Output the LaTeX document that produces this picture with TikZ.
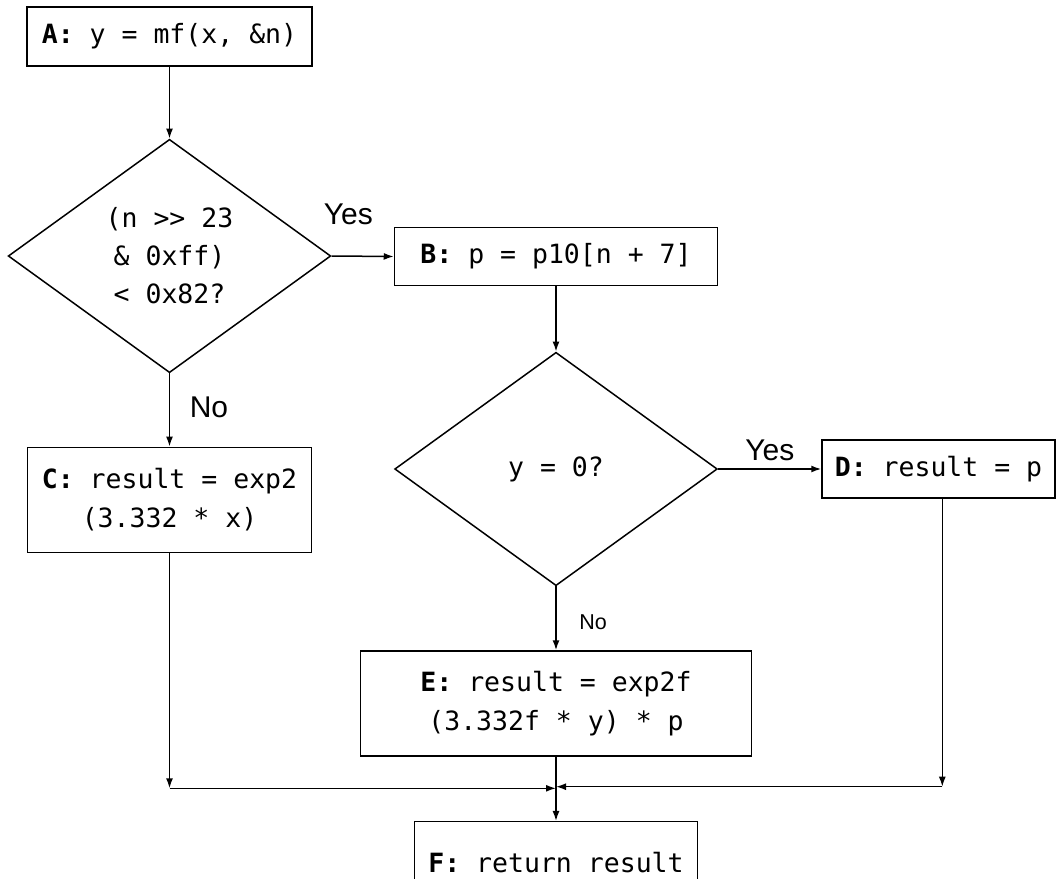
\documentclass[tikz,border=0pt]{standalone}
\usepackage{fontspec}
\setmonofont{DejaVu Sans Mono}
\setsansfont{Liberation Sans}
\usetikzlibrary{shapes.geometric,arrows.meta}

\begin{document}
\begin{tikzpicture}[x=1pt,y=-1pt,
  stmt/.style={rectangle,draw,line width=1.5pt,align=center,inner sep=0pt,
    font=\ttfamily\fontsize{26.5}{39}\selectfont},
  cond/.style={diamond,draw,line width=1.5pt,align=center,inner sep=0pt,
    aspect=1.38,minimum width=322.6pt,minimum height=233.4pt,
    font=\ttfamily\fontsize{26.5}{38}\selectfont},
  answer/.style={anchor=base,font=\sffamily\fontsize{30}{36}\selectfont},
  flow/.style={line width=1.5pt,-{Latex[length=10pt,width=7pt]}}]
    \useasboundingbox (0,0) rectangle (1057,878);
    % Statements
    \node[stmt,minimum width=285pt,minimum height=59pt] (A) at (169.5,36.5)
      {\textbf{A:} y = mf(x, \&n)};
    \node[stmt,minimum width=323pt,minimum height=58.4pt] (B) at (556,256.5)
      {\textbf{B:} p = p10[n + 7]};
    \node[stmt,minimum width=284.4pt,minimum height=105.4pt] (C) at (169.5,500)
      {\textbf{C:} result = exp2\\(3.332 * x)};
    \node[stmt,minimum width=233pt,minimum height=58pt] (D) at (938.5,469)
      {\textbf{D:} result = p};
    \node[stmt,minimum width=391pt,minimum height=105pt] (E) at (556,703.5)
      {\textbf{E:} result = exp2f\\(3.332f * y) * p};
    \node[stmt,minimum width=283pt,minimum height=82.6pt] (F) at (556,863)
      {\textbf{F:} return result};
    % Decisions
    \node[cond] (Q1) at (169.5,256) {(n >{}> 23\\\& 0xff)\\< 0x82?};
    \node[cond] (Q2) at (556,469) {y = 0?};
    % Branch labels
    \node[answer] (yes1) at (348.3,224) {Yes};
    \node[answer] (no1) at (209,417) {No};
    \node[answer] (yes2) at (769.9,460) {Yes};
    \node[answer,font=\sffamily\fontsize{21.5}{26}\selectfont] (no2) at (593,629.3) {No};
    % Edges
    \coordinate (jl) at (169.5,788.3);
    \coordinate (jr) at (942.3,786.7);
    \draw[flow] (A.south) -- (Q1.north);
    \draw[flow] (Q1.east) -- (B.west);
    \draw[flow] (Q1.south) -- (C.north);
    \draw[flow] (B.south) -- (Q2.north);
    \draw[flow] (Q2.east) -- (D.west);
    \draw[flow] (Q2.south) -- (E.north);
    \draw[flow] (C.south) -- (jl);
    \draw[flow] (jl) -- (jl -| E.south);
    \draw[flow] (jr |- D.south) -- (jr);
    \draw[flow] (jr) -- (jr -| E.south);
    \draw[flow] (E.south) -- (F.north);
\end{tikzpicture}
\end{document}
